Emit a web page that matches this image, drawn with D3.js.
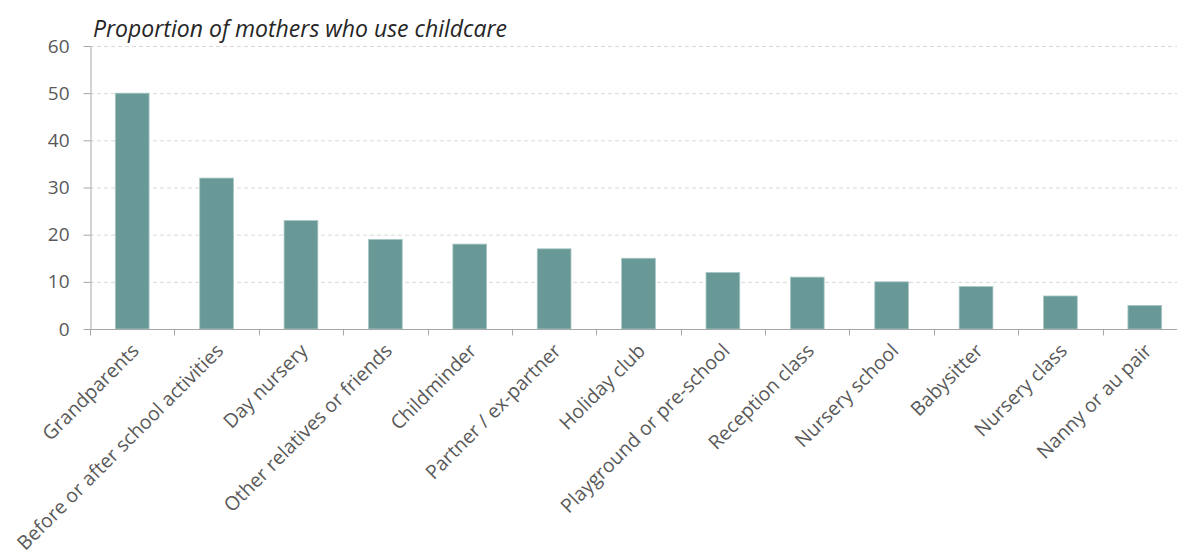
<!DOCTYPE html>
<html>
<head>
<meta charset="utf-8">
<script src="https://cdn.jsdelivr.net/npm/d3@7"></script>
<style>
  html, body { margin: 0; padding: 0; background: #fff; }
  svg { display: block; }
</style>
</head>
<body>
<svg id="chart" width="1177" height="557"></svg>
<script>
const categories = ["Grandparents", "Before or after school activities", "Day nursery", "Other relatives or friends", "Childminder", "Partner / ex-partner", "Holiday club", "Playground or pre-school", "Reception class", "Nursery school", "Babysitter", "Nursery class", "Nanny or au pair"];
const values = [50, 32, 23, 19, 18, 17, 15, 12, 11, 10, 9, 7, 5];
const yTicks = [0, 10, 20, 30, 40, 50, 60];
const title = "Proportion of mothers who use childcare";

const svg = d3.select("#chart");
const font = "'Open Sans', 'Noto Sans', sans-serif";
const x0 = 90, x1 = 1187, yBottom = 329, yTop = 46;

const x = d3.scaleBand().domain(categories).range([x0, x1]).paddingInner(0.6).paddingOuter(0.3);
const y = d3.scaleLinear().domain([0, 60]).range([yBottom, yTop]);
const step = x.step();

// gridlines
svg.append("g").selectAll("line").data(yTicks.filter(d => d > 0)).join("line")
  .attr("x1", x0).attr("x2", 1177)
  .attr("y1", d => y(d) + 0.5).attr("y2", d => y(d) + 0.5)
  .attr("stroke", "#d9d9d9").attr("stroke-width", 1).attr("stroke-dasharray", "4,3");

// bars
svg.append("g").selectAll("rect").data(values).join("rect")
  .attr("x", (d, i) => x(categories[i]))
  .attr("y", d => y(d))
  .attr("width", x.bandwidth())
  .attr("height", d => yBottom - y(d))
  .attr("fill", "#699997")
  .attr("stroke", "#a9c8c6").attr("stroke-width", 0.8);

// y axis
const yAxis = d3.axisLeft(y).tickValues(yTicks).tickSize(7).tickPadding(14).tickSizeOuter(0);
const gy = svg.append("g").attr("transform", `translate(${x0 + 0.5},0)`).call(yAxis);
gy.select(".domain").attr("stroke", "#a6a6a6");
gy.selectAll(".tick line").attr("stroke", "#a6a6a6");
gy.selectAll(".tick text").attr("font-family", font).attr("font-size", 19).attr("fill", "#595959");

// x axis
const xAxis = d3.axisBottom(x).tickSize(0).tickFormat("").tickSizeOuter(0);
const gx = svg.append("g").attr("transform", `translate(0,${yBottom + 0.5})`).call(xAxis);
gx.select(".domain").attr("stroke", "#a6a6a6").attr("d", `M${x0},0H1177`);
// boundary ticks
const bounds = d3.range(categories.length + 1).map(i => x0 + i * step);
gx.append("g").selectAll("line").data(bounds).join("line")
  .attr("x1", d => Math.round(d) + 0.5).attr("x2", d => Math.round(d) + 0.5)
  .attr("y1", 0).attr("y2", 6).attr("stroke", "#a6a6a6");

// category labels
svg.append("g").selectAll("text").data(categories).join("text")
  .attr("transform", d => `translate(${x(d) + x.bandwidth() / 2 + 8},${yBottom + 23}) rotate(-45)`)
  .attr("text-anchor", "end")
  .attr("font-family", font).attr("font-size", 19.5).attr("fill", "#595959")
  .text(d => d);

// title
svg.append("text").attr("x", 93).attr("y", 37)
  .attr("font-family", font).attr("font-size", 23).attr("font-style", "italic").attr("fill", "#262626")
  .text(title);
</script>
</body>
</html>
